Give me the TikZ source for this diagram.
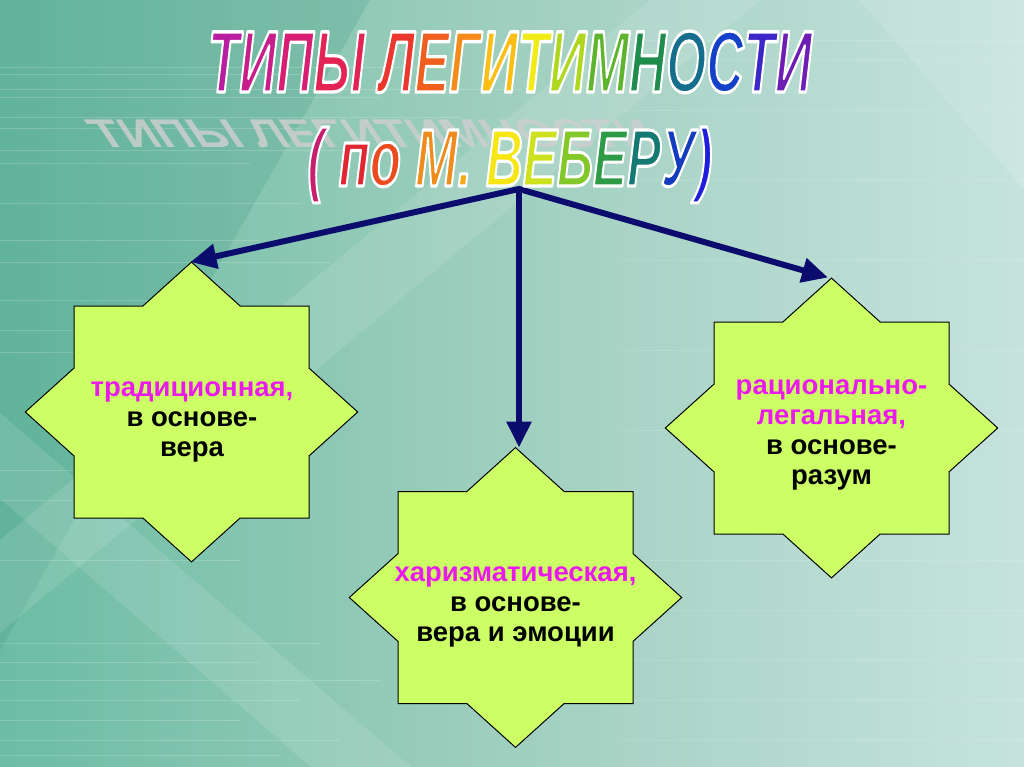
\documentclass[tikz,border=0pt]{standalone}
\usepackage{fontspec}
\usepackage{graphicx}
\setmainfont{Liberation Sans}
\newfontfamily\titlefont{Liberation Sans}
\usetikzlibrary{arrows.meta}
\definecolor{bgA}{RGB}{108,188,163}
\definecolor{bgB}{RGB}{160,207,191}
\definecolor{bgC}{RGB}{198,227,222}
\definecolor{bgDark}{RGB}{60,150,125}
\definecolor{starfill}{RGB}{204,255,102}
\definecolor{navy}{RGB}{12,12,110}
\definecolor{mag}{RGB}{235,25,235}
\definecolor{shadowgrey}{RGB}{204,207,207}
\newif\ifoutl
% one letter: coloured fill, white stroke (used only inside \wordart)
\newcommand\tl[2]{\ifoutl#2\else\textcolor[RGB]{#1}{\special{pdf:literal direct 1 1 1 RG}#2}\fi}
\newcommand\titleA{\titlefont\bfseries\itshape\fontsize{84pt}{84pt}\selectfont
\tl{185,30,160}{Т}\tl{200,30,140}{И}\tl{215,30,115}{П}\tl{228,35,85}{Ы} \tl{235,55,45}{Л}\tl{240,95,30}{Е}\tl{245,140,25}{Г}\tl{250,190,20}{И}\tl{240,235,20}{Т}\tl{175,215,30}{И}\tl{95,180,45}{М}\tl{30,140,75}{Н}\tl{20,110,140}{О}\tl{20,65,200}{С}\tl{60,40,200}{Т}\tl{110,30,180}{И}}
\newcommand\titleB{\titlefont\bfseries\itshape\fontsize{84pt}{84pt}\selectfont
\tl{200,30,110}{(} \tl{225,40,50}{п}\tl{235,75,30}{о} \tl{240,140,30}{М}\tl{245,170,20}{.} \tl{245,230,20}{В}\tl{205,225,30}{Е}\tl{130,200,40}{Б}\tl{45,155,70}{Е}\tl{20,120,115}{Р}\tl{20,60,190}{У}\tl{30,30,220}{)}}
\newcommand\wordart[3]{%
  \special{pdf:literal direct q 2 Tr 3.2 w 1 j}%
  \resizebox{#1}{#2}{#3}%
  \special{pdf:literal direct Q}}
\newcommand\octostar[2]{%
  \path[starshape, shift={(#1,#2)}] (0,-149.9) -- (48.65,-106) -- (117.5,-106)
    -- (117.5,-43.9) -- (166.2,0) -- (117.5,43.9) -- (117.5,106) -- (48.65,106)
    -- (0,149.9) -- (-48.65,106) -- (-117.5,106) -- (-117.5,43.9) -- (-166.2,0)
    -- (-117.5,-43.9) -- (-117.5,-106) -- (-48.65,-106) -- cycle;}
\tikzset{
  starshape/.style={draw=black, line width=1pt, fill=starfill},
  bodytext/.style={inner sep=0pt, align=center, text=black,
    font=\bfseries\fontsize{27.5pt}{30pt}\selectfont},
  conn/.style={draw=navy, line width=6pt, line join=miter},
  tip/.tip={Triangle[length=26pt,width=24pt]},
  band/.style={fill=white, opacity=0.11},
  streak/.style={fill=white, opacity=0.18},
  shadowtext/.style={anchor=base west, inner sep=0pt, text=shadowgrey}
}
\begin{document}
\begin{tikzpicture}[x=1pt,y=-1pt]
\useasboundingbox (0,0) rectangle (1024,767);
% background
\shade[left color=bgA, right color=bgC, middle color=bgB] (0,0) rectangle (1024,767);
\fill[bgDark, opacity=0.22] (0,0) -- (370,0) -- (0,650) -- cycle;
\fill[band] (0,499) -- (311,767) -- (411,767) -- (0,413) -- cycle;
\fill[band] (0,633) -- (760,0) -- (650,0) -- (0,540) -- cycle;
\fill[band] (860,0) -- (1024,0) -- (1024,190) -- cycle;
\foreach \yy/\len in {67/420,74/300,89/520,97/380,117/460,128/300,150/350,163/250,203/300,240/260,262/330,300/200,330/280,352/180,470/220,500/160,560/240,643/320,662/260,680/380,700/300,720/240,740/340,755/280}
  \path[streak] (0,\yy) rectangle (\len,\yy+1.2);
\foreach \yy in {40,60,110,180,260,350,430,560,610,660,700,740}
  \fill[white, opacity=0.12] (620,\yy) rectangle (1024,\yy+0.8);
% shadow of the title
\begin{scope}[shift={(104,148)}]
  \node[shadowtext, xslant=-0.9, text opacity=0.85] (shadowA) at (0,0)
    {\outltrue\resizebox{560pt}{28pt}{\titleA}};
\end{scope}
% stars
\octostar{191.5}{412}
\octostar{515.5}{597.5}
\octostar{831.5}{428}
\coordinate (apex) at (519,189);
\coordinate (Ltip) at (190.5,262);
\coordinate (Mtip) at (519,447.5);
\coordinate (Rtip) at (828,277.5);
% connectors
\draw[conn, {tip}-{tip}] (Ltip) -- (apex) -- (Rtip);
\draw[conn, -{tip}] (apex) -- (Mtip);
% title
\node[anchor=base, inner sep=0pt] (title1) at (510,92) {\wordart{604pt}{61pt}{\titleA}};
\node[anchor=base, inner sep=0pt] (title2) at (510,186) {\wordart{405pt}{59pt}{\titleB}};
% texts
\node[bodytext, anchor=north] (trad) at (192,381)
  {\textcolor{mag}{традиционная,}\\в основе-\\вера};
\node[bodytext, anchor=north] (char) at (515.5,566)
  {\textcolor{mag}{харизматическая,}\\в основе-\\вера и эмоции};
\node[bodytext, anchor=north] (rat) at (831.5,379)
  {\textcolor{mag}{рационально-}\\\textcolor{mag}{легальная,}\\в основе-\\разум};
\end{tikzpicture}
\end{document}
